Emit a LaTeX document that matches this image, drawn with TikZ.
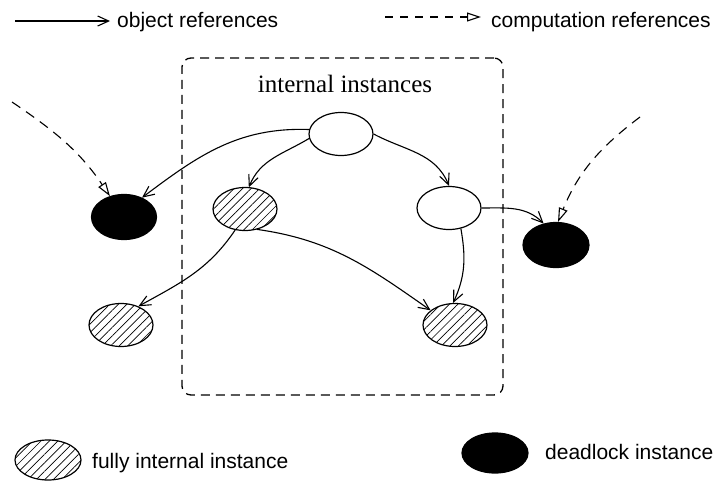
\documentclass[tikz,border=0pt]{standalone}
\usepackage{fontspec}
\setmainfont{Liberation Serif}
\newfontfamily\legendfont{Liberation Sans}
\usetikzlibrary{arrows.meta,patterns.meta,shapes.geometric}
\begin{document}
\begin{tikzpicture}[x=1pt,y=-1pt,
  inst/.style={ellipse,draw,line width=1.2pt,minimum width=64pt,minimum height=43pt,inner sep=0pt},
  plaininst/.style={inst,fill=white},
  hatchinst/.style={inst,pattern={Lines[angle=45,distance=6pt,line width=0.7pt]}},
  deadinst/.style={inst,fill=black},
  objref/.style={line width=1.1pt,-{Straight Barb[length=11pt,width=10pt,line width=1.1pt]}},
  compref/.style={line width=1.1pt,dash pattern=on 10pt off 7pt,-{Triangle[open,length=14pt,width=9pt,line width=1.1pt]}},
  regionbox/.style={draw,line width=1.3pt,dash pattern=on 9pt off 6pt,rounded corners=9pt,inner sep=0pt},
  lbl/.style={font=\legendfont\fontsize{21}{25}\selectfont,anchor=base west,inner sep=0pt}
]
\useasboundingbox (0,0) rectangle (721,482);

% legend top
\coordinate (l1s) at (15,21);
\coordinate (l1e) at (110,21);
\draw[objref] (l1s) -- (l1e);
\node[lbl] (l1t) at (117,27) {object references};
\coordinate (l2s) at (385,17);
\coordinate (l2e) at (481,17);
\draw[compref,dash pattern=on 8pt off 7pt] (l2s) -- (l2e);
\node[lbl] (l2t) at (491,27) {computation references};

% region
\node[regionbox,minimum width=321pt,minimum height=337pt] (region) at (342.5,226.5) {};
\node[font=\fontsize{25}{30}\selectfont,anchor=base,inner sep=0pt] (title) at (345,92) {internal instances};

% instances
\node[plaininst] (top) at (341,134) {};
\node[hatchinst] (lh) at (245,209) {};
\node[plaininst] (rw) at (449,208) {};
\node[hatchinst] (brh) at (455,325) {};
\node[hatchinst] (blh) at (121,325) {};
\node[deadinst,minimum width=65pt,minimum height=45pt] (lb) at (124,217) {};
\node[deadinst,minimum width=66pt,minimum height=45pt] (rb) at (556,245) {};

% object references
\draw[objref] (top.172) to[out=178,in=37] (lb.47);
\draw[objref] (top.188) to[out=211,in=68] (lh.80);
\draw[objref] (top.east) to[out=-28,in=112] (rw.north);
\draw[objref] (rw.east) to[out=0,in=135] (rb.120);
\draw[objref] (rw.-60) to[out=-80,in=65] (brh.95);
\draw[objref] (lh.-60) to[out=-8,in=145] (brh.149);
\draw[objref] (lh.-115) to[out=236,in=29] (blh.47);

% computation references
\coordinate (c1) at (12,102);
\coordinate (c2) at (640,117);
\draw[compref] (c1) to[out=-34,in=124] (lb.124);
\draw[compref] (c2) to[out=217,in=68] (rb.85);

% legend bottom
\node[hatchinst,minimum width=66pt,minimum height=40pt] (legh) at (48,460) {};
\node[lbl] (leght) at (92,468) {fully internal instance};
\node[deadinst,minimum width=66pt,minimum height=40pt] (legd) at (495,453) {};
\node[lbl] (legdt) at (545,459) {deadlock instance};
\end{tikzpicture}
\end{document}
